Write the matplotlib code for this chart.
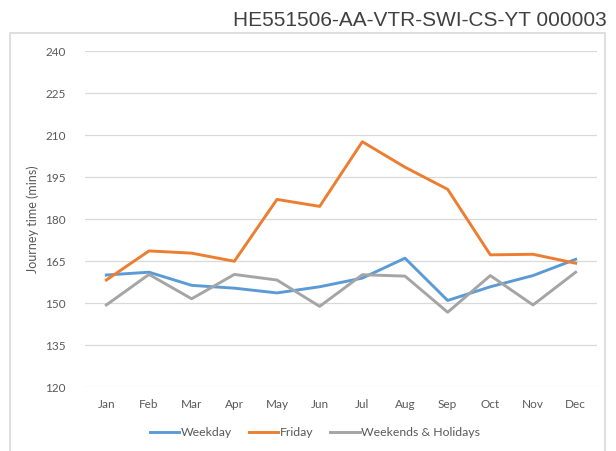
import matplotlib.pyplot as plt
from matplotlib.patches import Rectangle

# data
months = ['Jan', 'Feb', 'Mar', 'Apr', 'May', 'Jun', 'Jul', 'Aug', 'Sep', 'Oct', 'Nov', 'Dec']
weekday = [160.0, 161.0, 156.3, 155.3, 153.6, 155.8, 158.9, 166.0, 150.9, 155.8, 159.8, 165.6]
friday = [158.2, 168.6, 167.8, 164.9, 187.0, 184.5, 207.6, 198.5, 190.6, 167.2, 167.4, 164.2]
weekends = [149.3, 160.2, 151.5, 160.2, 158.2, 148.8, 160.1, 159.6, 146.7, 159.8, 149.3, 161.0]
yticks = [120, 135, 150, 165, 180, 195, 210, 225, 240]

plt.rcParams['font.family'] = ['Lato', 'DejaVu Sans']

W, H = 616, 451
fig = plt.figure(figsize=(W / 100, H / 100), dpi=100)

# chart frame
fig.patches.append(Rectangle((10 / W, -0.05), 595 / W, 1 - 33 / H + 0.05,
                             transform=fig.transFigure, fill=False,
                             edgecolor='#d9d9d9', linewidth=1.2))

fig.text(607 / W, 1 - 20 / H, 'HE551506-AA-VTR-SWI-CS-YT 000003', ha='right',
         va='center', fontsize=15, color='#404040', family='Liberation Sans')

ax = fig.add_axes([85 / W, 1 - 387 / H, (597 - 85) / W, (387 - 51) / H])
x = range(len(months))
ax.plot(x, weekday, color='#5b9bd5', lw=2.1, label='Weekday', solid_joinstyle='round')
ax.plot(x, friday, color='#ed7d31', lw=2.1, label='Friday', solid_joinstyle='round')
ax.plot(x, weekends, color='#a5a5a5', lw=2.1, label='Weekends & Holidays', solid_joinstyle='round')

ax.set_xlim(-0.5, len(months) - 0.5)
ax.set_ylim(120, 240)
ax.set_yticks(yticks)
ax.set_xticks(list(x))
ax.set_xticklabels(months)
ax.grid(axis='y', color='#d9d9d9', lw=0.9)
ax.set_axisbelow(True)
for s in ax.spines.values():
    s.set_visible(False)
ax.tick_params(length=0, labelsize=8.5, labelcolor='#595959')
ax.tick_params(axis='y', pad=14)
ax.tick_params(axis='x', pad=9)
ax.set_ylabel('Journey time (mins)', fontsize=9, color='#595959', labelpad=4)

leg = ax.legend(loc='center', bbox_to_anchor=((315 - 85) / (597 - 85), (387 - 433) / (387 - 51)),
                ncol=3, frameon=False, fontsize=8.8, handlelength=2.4,
                handletextpad=0.1, columnspacing=1.4)
for t in leg.get_texts():
    t.set_color('#595959')

fig.savefig('out.png', dpi=100)
